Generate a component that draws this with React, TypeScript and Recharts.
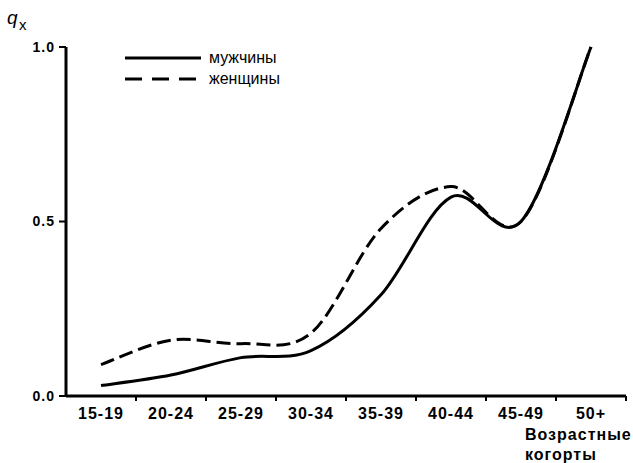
import { LineChart, Line, XAxis, YAxis, Customized } from 'recharts';

const cohorts = ['15-19', '20-24', '25-29', '30-34', '35-39', '40-44', '45-49', '50+'];
const men = [0.03, 0.06, 0.11, 0.13, 0.29, 0.57, 0.5, 1.0];
const women = [0.09, 0.16, 0.15, 0.18, 0.48, 0.6, 0.5, 1.0];
const yTicks = [0, 0.5, 1];

const data = cohorts.map((c, i) => ({ cohort: c, men: men[i], women: women[i] }));

const FONT = '"Liberation Sans", Arial, sans-serif';
const HALF_BAND = 35;

// excel-style smoothing (catmull-rom through the points)
function smoothCurve(context: any) {
  let xs: number[] = [];
  let ys: number[] = [];
  return {
    areaStart() {},
    areaEnd() {},
    lineStart() {
      xs = [];
      ys = [];
    },
    point(x: number, y: number) {
      xs.push(+x);
      ys.push(+y);
    },
    lineEnd() {
      const n = xs.length;
      if (!n) return;
      context.moveTo(xs[0], ys[0]);
      for (let i = 0; i < n - 1; i++) {
        const px = i > 0 ? xs[i - 1] : xs[i];
        const py = i > 0 ? ys[i - 1] : ys[i];
        const nx = i + 2 < n ? xs[i + 2] : xs[i + 1];
        const ny = i + 2 < n ? ys[i + 2] : ys[i + 1];
        context.bezierCurveTo(
          xs[i] + (xs[i + 1] - px) / 6,
          ys[i] + (ys[i + 1] - py) / 6,
          xs[i + 1] - (nx - xs[i]) / 6,
          ys[i + 1] - (ny - ys[i]) / 6,
          xs[i + 1],
          ys[i + 1]
        );
      }
    },
  };
}

const XTick = (props: any) => {
  const { x, y, payload } = props;
  return (
    <g>
      <text x={x} y={y + 23} textAnchor="middle" fontFamily={FONT} fontSize={16} fontWeight="bold" letterSpacing={1} fill="#000">
        {payload.value}
      </text>
      <line x1={x + HALF_BAND} x2={x + HALF_BAND} y1={y} y2={y + 5} stroke="#000" strokeWidth={2} />
    </g>
  );
};

const YTick = (props: any) => {
  const { x, y, payload } = props;
  return (
    <text x={x - 2} y={y} dy="0.35em" textAnchor="end" fontFamily={FONT} fontSize={14} fontWeight="bold" letterSpacing={1} fill="#000">
      {payload.value.toFixed(1)}
    </text>
  );
};

const Extras = () => (
  <g fontFamily={FONT} fill="#000">
    <text x={7} y={24} fontSize={19} fontStyle="italic">q</text>
    <text x={19} y={30} fontSize={15}>x</text>
    <line x1={125} x2={201} y1={58} y2={58} stroke="#000" strokeWidth={3} />
    <text x={209} y={63} fontSize={16}>мужчины</text>
    <line x1={125} x2={201} y1={79} y2={79} stroke="#000" strokeWidth={3} strokeDasharray="17 10" />
    <text x={209} y={84} fontSize={16}>женщины</text>
    <text x={525} y={440} fontSize={16} fontWeight="bold" letterSpacing={1}>Возрастные</text>
    <text x={525} y={460} fontSize={16} fontWeight="bold" letterSpacing={1}>когорты</text>
  </g>
);

export default function App() {
  return (
    <div style={{ position: 'absolute', left: 0, top: 0, width: 633, height: 463, background: '#fff' }}>
      <LineChart width={633} height={463} data={data} margin={{ top: 47, right: 7, bottom: 37, left: 26 }}>
        <XAxis
          dataKey="cohort"
          height={30}
          padding={{ left: HALF_BAND, right: HALF_BAND }}
          axisLine={{ stroke: '#000', strokeWidth: 3 }}
          tickLine={false}
          tickSize={0}
          tickMargin={0}
          interval={0}
          tick={<XTick />}
        />
        <YAxis
          width={40}
          domain={[0, 1]}
          ticks={yTicks}
          axisLine={{ stroke: '#000', strokeWidth: 3 }}
          tickLine={{ stroke: '#000', strokeWidth: 2 }}
          tickSize={7}
          tickMargin={2}
          tick={<YTick />}
        />
        <Line
          dataKey="women"
          type={smoothCurve as any}
          stroke="#000"
          strokeWidth={3}
          strokeDasharray="14 6"
          dot={false}
          isAnimationActive={false}
        />
        <Line
          dataKey="men"
          type={smoothCurve as any}
          stroke="#000"
          strokeWidth={3}
          dot={false}
          isAnimationActive={false}
        />
        <Customized component={Extras} />
      </LineChart>
    </div>
  );
}
